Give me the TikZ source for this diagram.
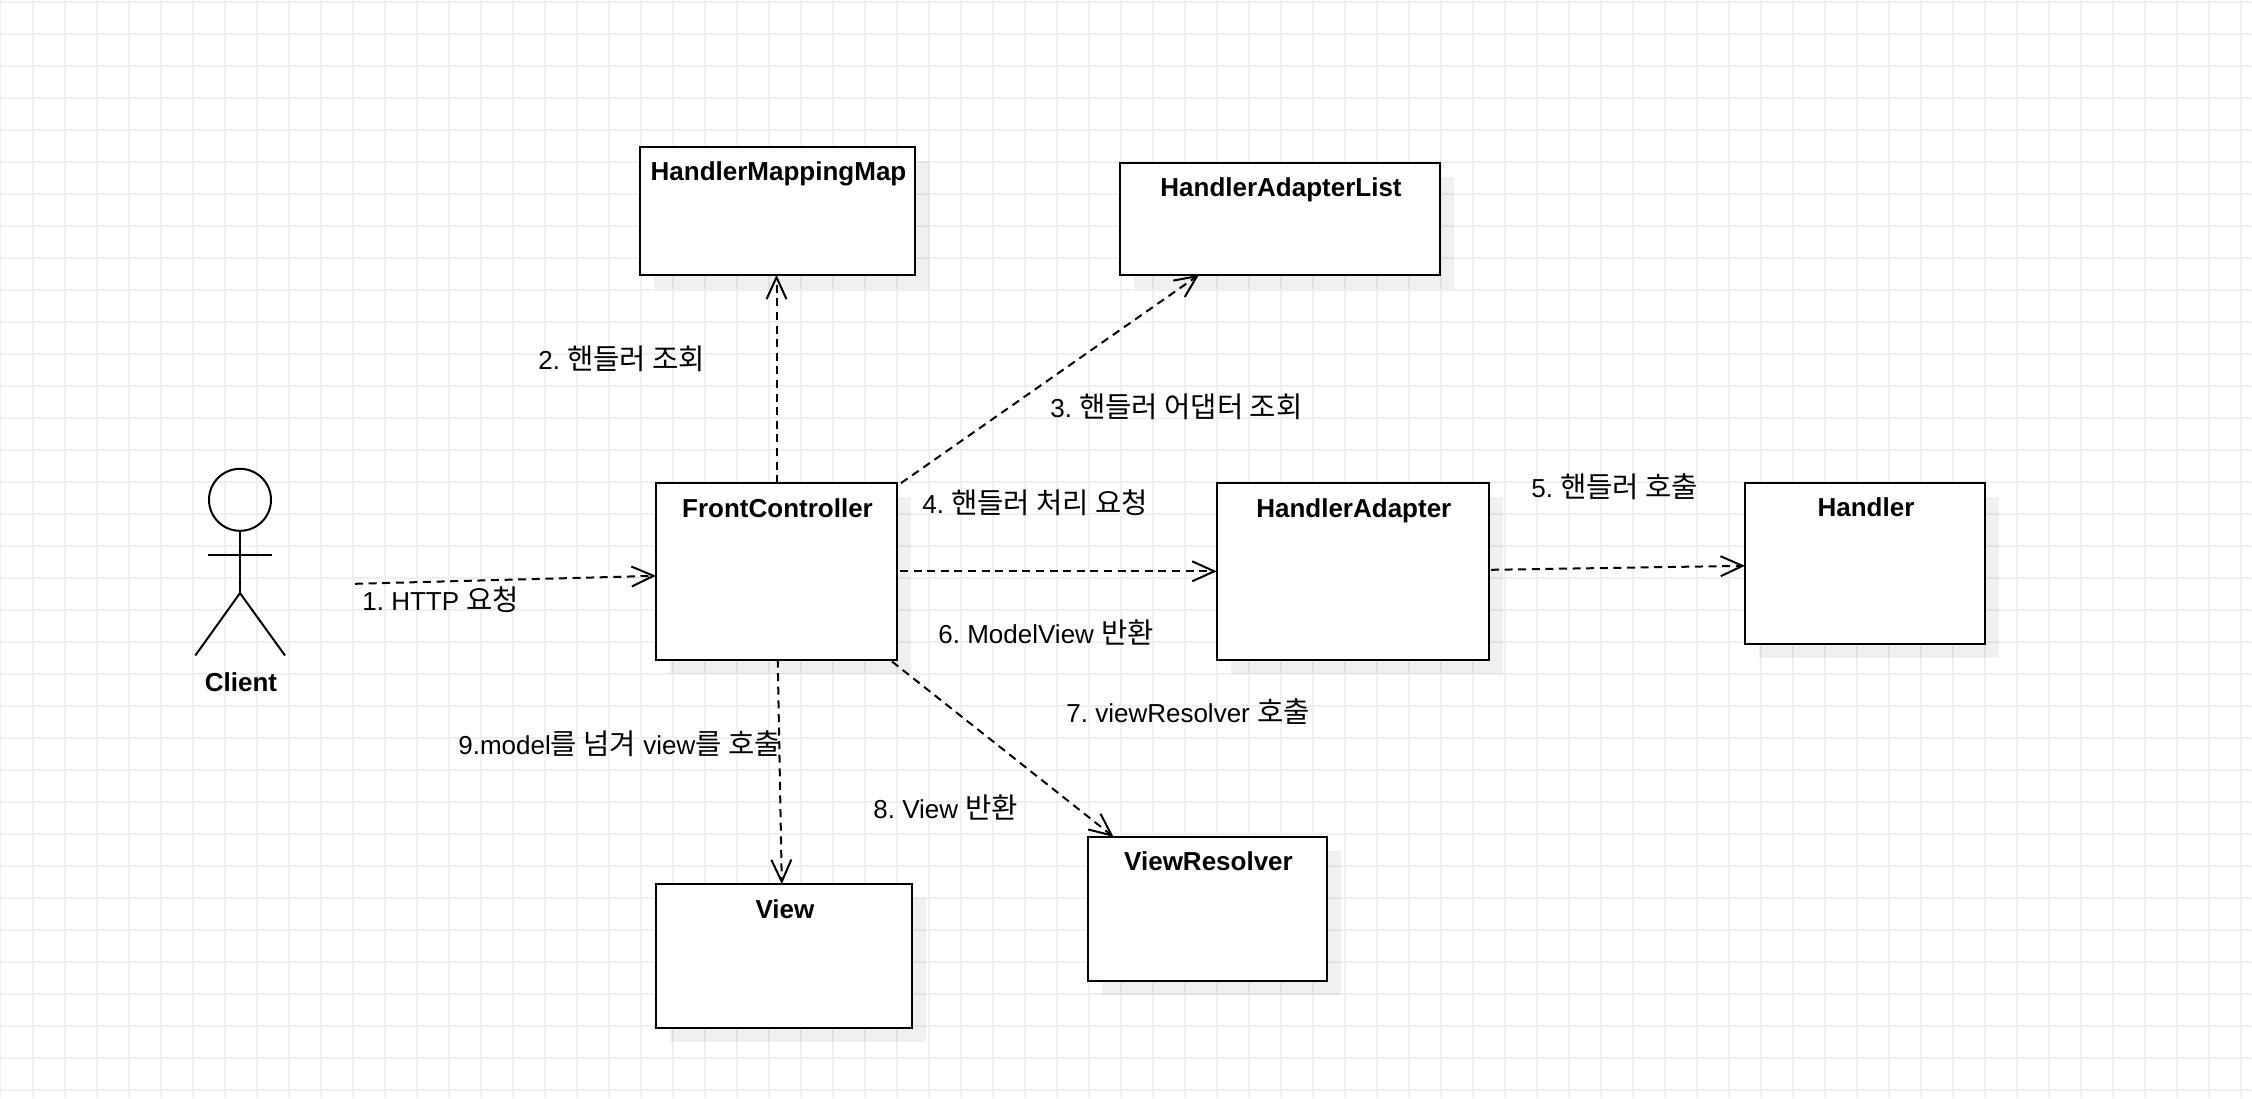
\documentclass[tikz,border=0pt]{standalone}
\usepackage{fontspec}
\setmainfont{Liberation Sans}
\newfontfamily\cjk[Scale=1.1]{Noto Sans CJK KR}
\usetikzlibrary{arrows.meta,positioning,shadows}

\definecolor{gridgray}{HTML}{F0F0F0}

\tikzset{
    gridline/.style={draw=gridgray, line width=0.8pt},
    classbox/.style={draw, line width=1pt, fill=white, inner sep=0pt, outer sep=0pt,
        drop shadow={shadow xshift=7pt, shadow yshift=-7pt, fill=black, opacity=0.058}},
    classtitle/.style={inner sep=0pt, anchor=base, xshift=0.5pt, yshift=-17pt, font=\fontsize{13}{15}\selectfont\bfseries},
    actorname/.style={inner sep=0pt, anchor=base, font=\fontsize{13}{15}\selectfont\bfseries},
    steplabel/.style={inner sep=0pt, anchor=west, font=\frenchspacing\fontsize{13}{15}\selectfont},
    call/.style={line width=1pt, dash pattern=on 4pt off 2.8pt, -{Straight Barb[length=11pt,width=10pt]}},
    figure/.style={line width=1pt}
}

\newcommand{\ko}[1]{{\cjk #1}}

\begin{document}
\begin{tikzpicture}[x=0.5pt, y=-0.5pt]
        \useasboundingbox (0,0) rectangle (2252,1098);
        \fill[white] (0,0) rectangle (2252,1098);

        \foreach \gx in {0,...,70} {
            \draw[gridline] (32*\gx+0.7,0) -- (32*\gx+0.7,1098);
        }
        \foreach \gy in {0,...,34} {
            \draw[gridline] (0,32*\gy+1.7) -- (2252,32*\gy+1.7);
        }

        \begin{scope}[yshift=-0.4pt]
        % classes
        \node (HandlerMappingMap)  [classbox, minimum width=137.5pt, minimum height=64pt]   at (777.5,210) {};
        \node (HandlerAdapterList) [classbox, minimum width=160pt,   minimum height=56pt]   at (1280,218) {};
        \node (FrontController)    [classbox, minimum width=120.5pt, minimum height=88.2pt] at (776.5,570.5) {};
        \node (HandlerAdapter)     [classbox, minimum width=136.2pt, minimum height=88.2pt] at (1352.8,570.5) {};
        \node (Handler)            [classbox, minimum width=120pt,   minimum height=80.3pt] at (1865,562.4) {};
        \node (ViewResolver)       [classbox, minimum width=119.5pt, minimum height=72pt]   at (1207.5,908) {};
        \node (View)               [classbox, minimum width=128.3pt, minimum height=71.7pt] at (784,955) {};

        \node (HandlerMappingMapTitle)  [classtitle] at (HandlerMappingMap.north)  {HandlerMappingMap};
        \node (HandlerAdapterListTitle) [classtitle] at (HandlerAdapterList.north) {HandlerAdapterList};
        \node (FrontControllerTitle)    [classtitle] at (FrontController.north)    {FrontController};
        \node (HandlerAdapterTitle)     [classtitle] at (HandlerAdapter.north)     {HandlerAdapter};
        \node (HandlerTitle)            [classtitle] at (Handler.north)            {Handler};
        \node (ViewResolverTitle)       [classtitle] at (ViewResolver.north)       {ViewResolver};
        \node (ViewTitle)               [classtitle] at (View.north)               {View};

        % client
        \node (ClientHead) [draw, circle, line width=1pt, outer sep=0pt, minimum size=31pt, inner sep=0pt] at (240,499) {};
        \coordinate (ClientHip) at (240,592.3);
        \draw[figure] (ClientHead.south) -- (ClientHip);
        \draw[figure] (207.7,554.3) -- (272.3,554.3);
        \draw[figure] (195.3,654.7) -- (ClientHip) -- (285,654.7);
        \node (Client) [actorname] at (241,690.7) {Client};

        % calls
        \coordinate (ClientOut) at (355,583);
        \draw[call] (ClientOut) -- ([yshift=-2.25pt]FrontController.west);
        \draw[call] (FrontController.north) -- (HandlerMappingMap.south -| FrontController.north);
        \draw[call] ([xshift=2pt]FrontController.north east) -- ([xshift=-40.5pt]HandlerAdapterList.south);
        \draw[call] ([xshift=1.5pt]FrontController.east) -- (HandlerAdapter.west);
        \draw[call] ([xshift=1pt,yshift=0.75pt]HandlerAdapter.east) -- ([yshift=-1.3pt]Handler.west);
        \draw[call] ([xshift=-2.5pt,yshift=-1pt]FrontController.south east) -- ([xshift=-47pt]ViewResolver.north);
        \draw[call] ([xshift=0.6pt]FrontController.south) -- ([xshift=-1.1pt]View.north);
        \end{scope}

        % step labels
        \node (Step1) [steplabel] at (362,600)  {1. HTTP \ko{요청}};
        \node (Step2) [steplabel] at (538,358.5)  {2. \ko{핸들러 조회}};
        \node (Step3) [steplabel] at (1050,407) {3. \ko{핸들러 어댑터 조회}};
        \node (Step4) [steplabel] at (922,502.5)  {4. \ko{핸들러 처리 요청}};
        \node (Step5) [steplabel] at (1531,487) {5. \ko{핸들러 호출}};
        \node (Step6) [steplabel] at (938,632)  {6. ModelView \ko{반환}};
        \node (Step7) [steplabel] at (1066,712) {7. viewResolver \ko{호출}};
        \node (Step8) [steplabel] at (873,807.5)  {8. View \ko{반환}};
        \node (Step9) [steplabel] at (458,744)  {9.model\ko{를 넘겨} view\ko{를 호출}};

    \end{tikzpicture}
\end{document}
